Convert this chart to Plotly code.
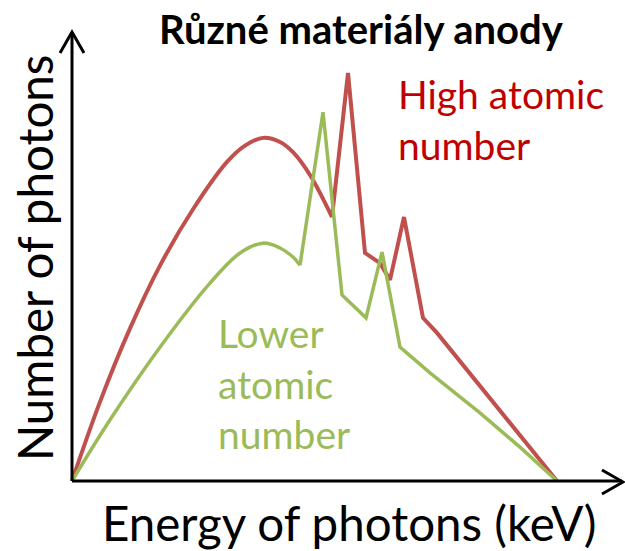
import plotly.graph_objects as go

# Photon energy (keV) and relative photon counts for each anode material.
# The first part of each spectrum is the smooth bremsstrahlung hump,
# the rest carries the sharp characteristic lines.
energy_high_hump = [0, 5.77, 11.96, 18.14, 24.95, 31.96, 35.67, 39.38, 42.89,
                    45.57, 49.07, 53.61]
counts_high_hump = [0, 19.4, 37.4, 52.8, 66.6, 78.2, 82.2, 84.1, 83.1,
                    80.6, 75.0, 64.7]
energy_high_lines = [53.61, 56.91, 60.41, 63.51, 65.57, 68.45, 72.37, 75.26, 100]
counts_high_lines = [64.7, 100, 55.9, 53.4, 49.3, 64.7, 40.0, 36.3, 0]

energy_low_hump = [0, 7.84, 18.14, 28.45, 34.64, 39.38, 42.89, 45.57, 47.01]
counts_low_hump = [0, 15.0, 32.8, 48.5, 55.9, 58.3, 57.1, 54.9, 52.9]
energy_low_lines = [47.01, 51.75, 55.67, 60.62, 63.92, 67.63, 73.81, 84.12, 92.37, 100]
counts_low_lines = [52.9, 90.4, 45.6, 40.0, 56.1, 32.8, 26.5, 16.7, 8.3, 0]

title_text = "Různé materiály anody"
x_title = "Energy of photons (keV)"
y_title = "Number of photons"
label_high = "High atomic<br>number"
label_low = "Lower<br>atomic<br>number"

W, H = 625, 551
FONT = "Lato, 'Open Sans', sans-serif"
RED_LINE = "#C0504D"
GREEN = "#9BBB59"
RED_TEXT = "#C00000"

# plot area scale: data units per pixel
X0_PX, XS = 72, 4.85
Y0_PX, YS = 481, 4.08
x_range = [-X0_PX / XS, (W - X0_PX) / XS]
y_range = [-(H - Y0_PX) / YS, Y0_PX / YS]


def dx(px):
    return (px - X0_PX) / XS


def dy(py):
    return (Y0_PX - py) / YS


fig = go.Figure()
for xs, ys, color, width, shape in [
    (energy_high_hump, counts_high_hump, RED_LINE, 4, "spline"),
    (energy_high_lines, counts_high_lines, RED_LINE, 4, "linear"),
    (energy_low_hump, counts_low_hump, GREEN, 3.5, "spline"),
    (energy_low_lines, counts_low_lines, GREEN, 3.5, "linear"),
]:
    fig.add_trace(go.Scatter(x=xs, y=ys, mode="lines",
                             line=dict(color=color, width=width, shape=shape),
                             hoverinfo="skip"))

# arrowed axes
axis_line = dict(color="black", width=3)
shapes = [
    dict(type="line", xref="x", yref="y", x0=0, y0=0, x1=0, y1=dy(33), line=axis_line),
    dict(type="line", xref="x", yref="y", x0=0, y0=0, x1=dx(622), y1=0, line=axis_line),
    dict(type="path", xref="x", yref="y",
         path=f"M {dx(60)},{dy(53)} L {dx(72)},{dy(32)} L {dx(84)},{dy(53)}", line=axis_line),
    dict(type="path", xref="x", yref="y",
         path=f"M {dx(602)},{dy(470)} L {dx(623)},{dy(482)} L {dx(602)},{dy(494)}", line=axis_line),
]

annotations = [
    dict(text=f"<b>{title_text}</b>", x=361 / W, y=1 - 29 / H, xref="paper", yref="paper",
         xanchor="center", yanchor="middle", showarrow=False,
         font=dict(family=FONT, size=40, color="black")),
    dict(text=label_high, x=396 / W, y=1 - 69 / H, xref="paper", yref="paper",
         xanchor="left", yanchor="top", align="left", showarrow=False,
         font=dict(family=FONT, size=39, color=RED_TEXT)),
    dict(text=label_low, x=216 / W, y=1 - 308 / H, xref="paper", yref="paper",
         xanchor="left", yanchor="top", align="left", showarrow=False,
         font=dict(family=FONT, size=39, color=GREEN)),
    dict(text=x_title, x=349 / W, y=1 - 522 / H, xref="paper", yref="paper",
         xanchor="center", yanchor="middle", showarrow=False,
         font=dict(family=FONT, size=47.5, color="black")),
    dict(text=y_title, x=34 / W, y=1 - 258 / H, xref="paper", yref="paper",
         xanchor="center", yanchor="middle", textangle=-90, showarrow=False,
         font=dict(family=FONT, size=47.5, color="black")),
]

fig.update_layout(
    width=W, height=H,
    margin=dict(l=0, r=0, t=0, b=0),
    paper_bgcolor="white", plot_bgcolor="white",
    showlegend=False,
    xaxis=dict(range=x_range, visible=False, fixedrange=True),
    yaxis=dict(range=y_range, visible=False, fixedrange=True),
    shapes=shapes,
    annotations=annotations,
)

fig.write_html("out.html", config={"displayModeBar": False})
